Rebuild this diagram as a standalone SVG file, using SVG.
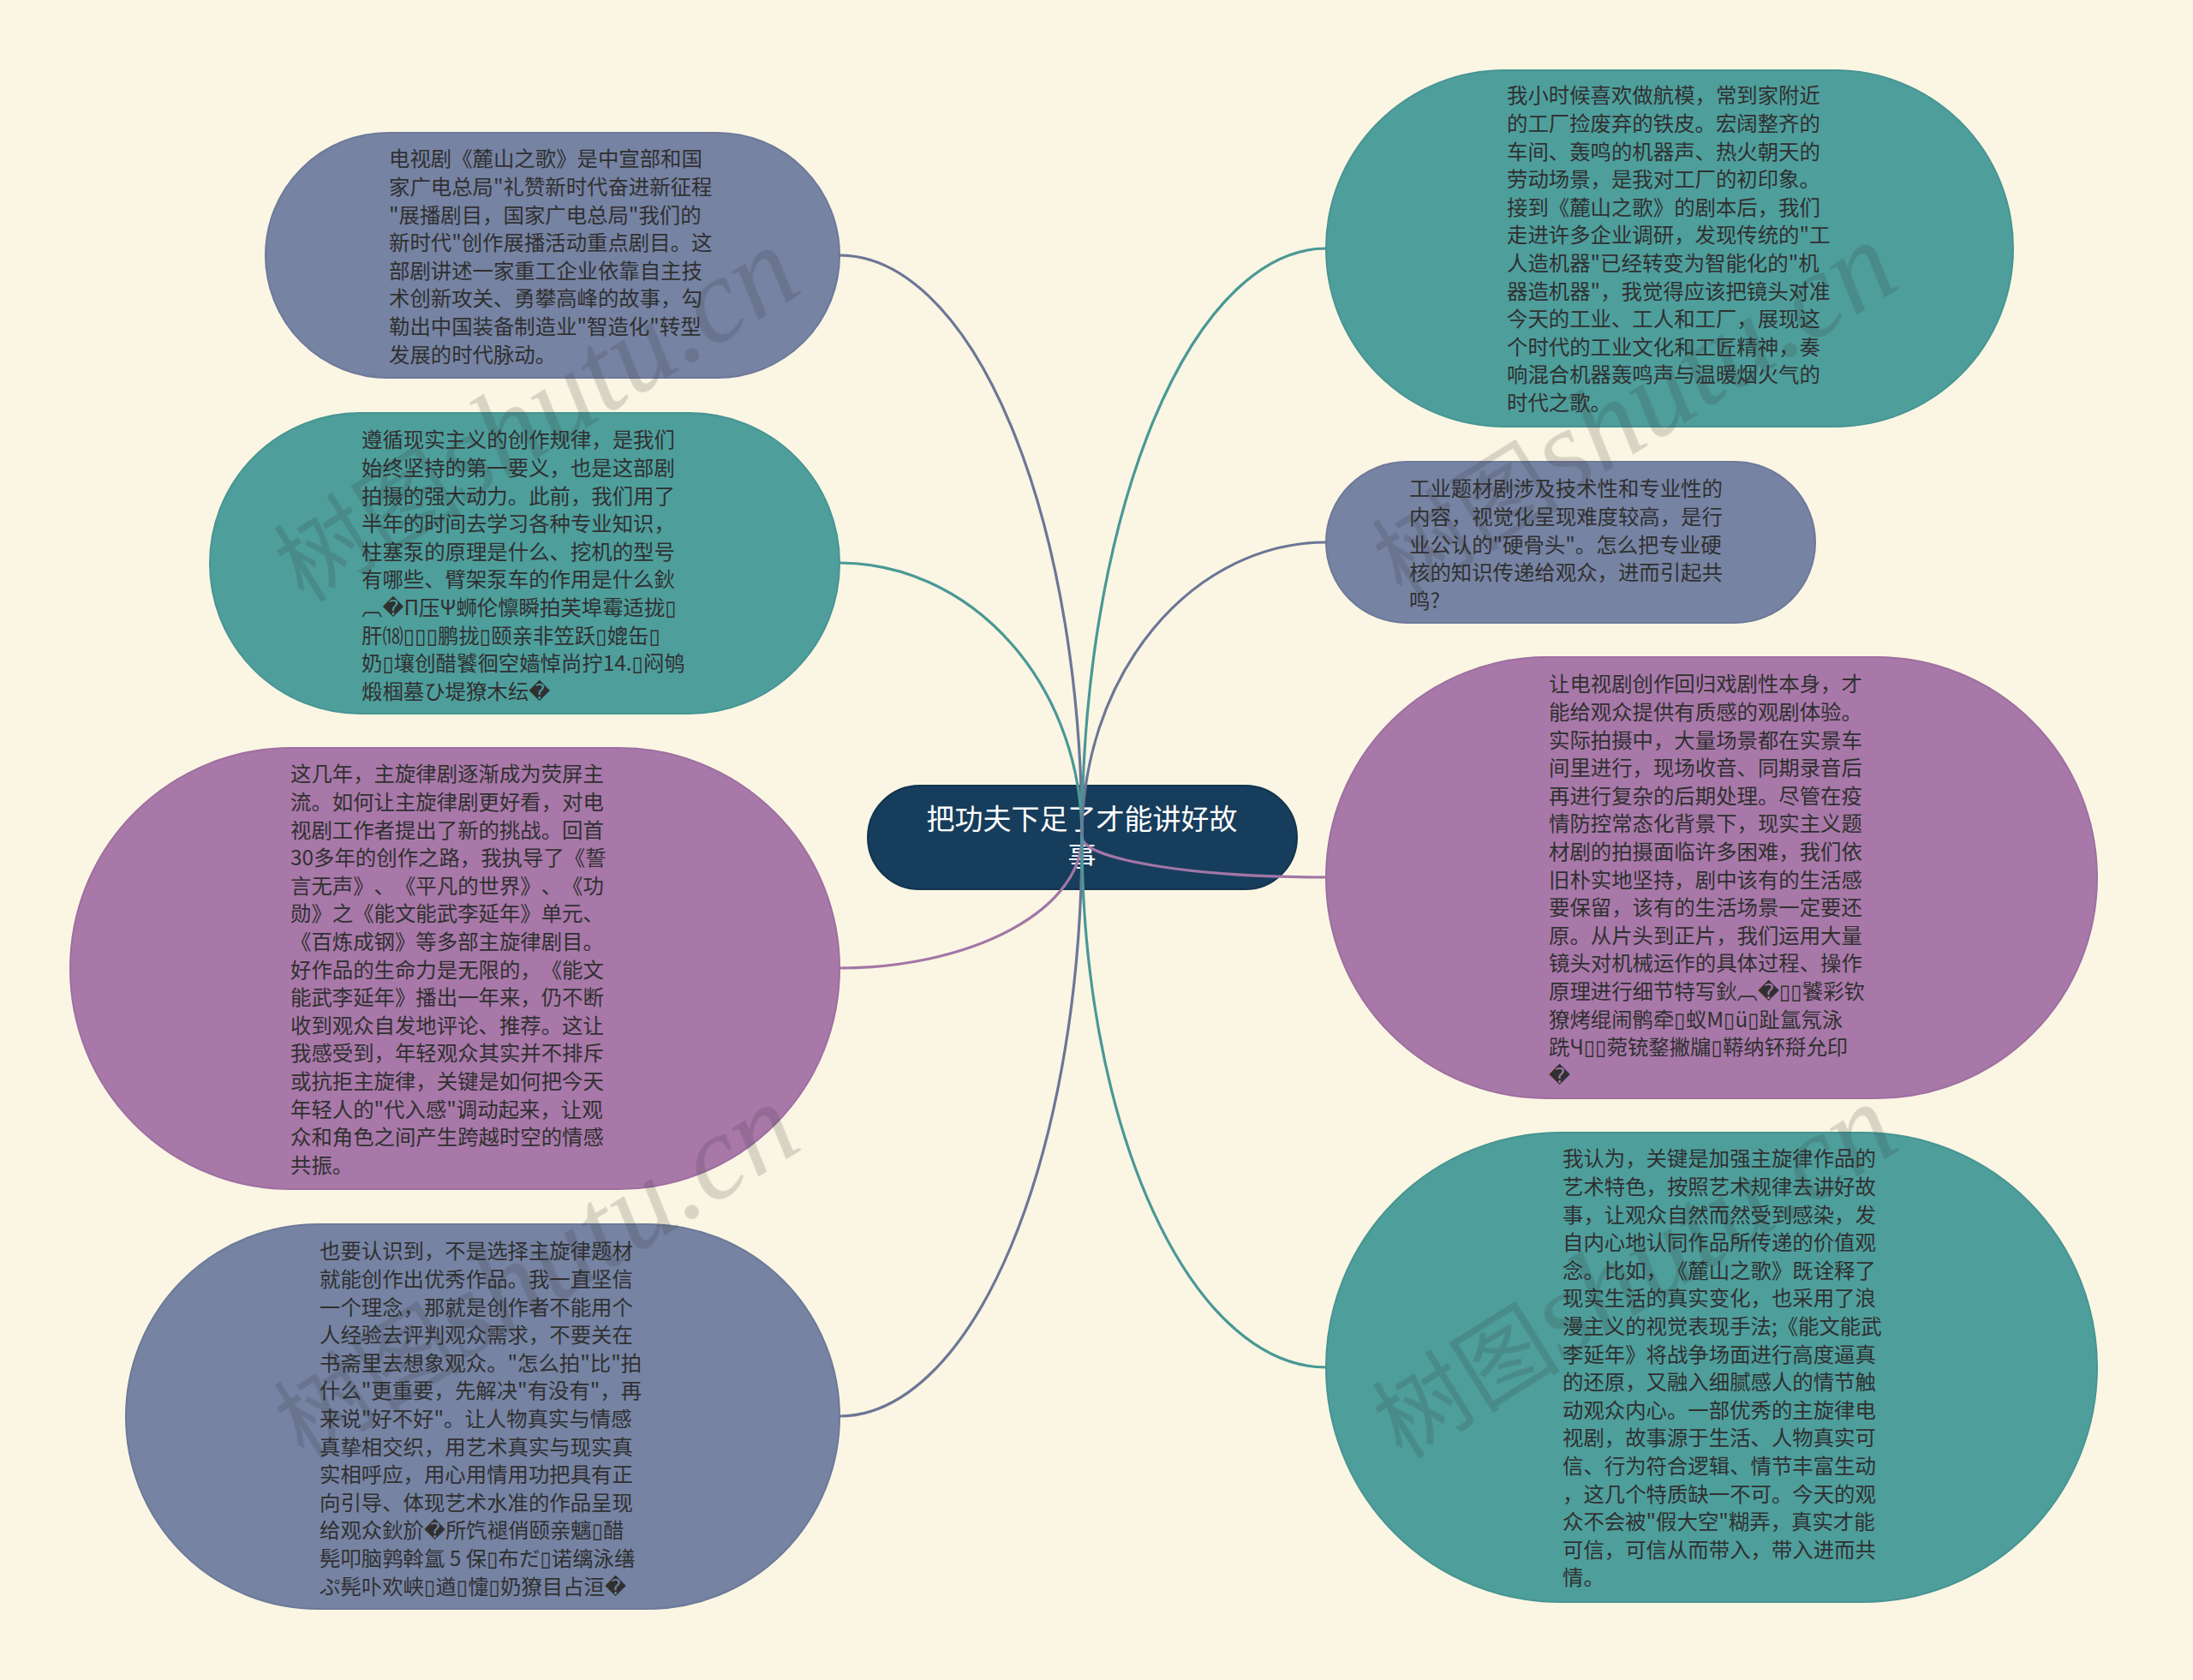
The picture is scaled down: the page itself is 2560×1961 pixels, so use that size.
<svg xmlns="http://www.w3.org/2000/svg" width="2560" height="1961" viewBox="0 0 2560 1961">
<style>
.bg{fill:#faf6e3}
.slate{fill:#7683a3;stroke:#6d799a;stroke-width:2}
.teal{fill:#4e9e9c;stroke:#479593;stroke-width:2}
.purple{fill:#a878a9;stroke:#9e6fa0;stroke-width:2}
.root{fill:#173d5c;stroke:#12344f;stroke-width:2}
text{text-spacing-trim:space-all;font-feature-settings:"chws" 0,"halt" 0}
.t{font-family:"Noto Sans CJK SC","Liberation Sans","DejaVu Sans",sans-serif;font-size:24.4px;fill:#303030}
.rt{font-family:"Noto Sans CJK SC","Liberation Sans",sans-serif;font-size:33px;fill:#ffffff;text-anchor:middle}
.c{fill:none;stroke-width:3.2;stroke-linecap:round}
.cs{stroke:#6c7697}
.ct{stroke:#4a9896}
.cp{stroke:#a276a6}
.wm{font-family:"Liberation Serif","Noto Sans CJK SC",serif;fill:#333333;opacity:0.17}
.wm .a{font-size:110px}
.wm .b{font-size:140px;font-style:italic}
</style>
<rect class="bg" x="0" y="0" width="2560" height="1961"/>

<g id="node-1">
<rect class="slate" x="310" y="155" width="670" height="286" rx="143" ry="143"/>
<text class="t" x="454" y="194.3"><tspan x="454">电视剧《麓山之歌》是中宣部和国</tspan><tspan x="454" dy="32.6">家广电总局"礼赞新时代奋进新征程</tspan><tspan x="454" dy="32.6">"展播剧目，国家广电总局"我们的</tspan><tspan x="454" dy="32.6">新时代"创作展播活动重点剧目。这</tspan><tspan x="454" dy="32.6">部剧讲述一家重工企业依靠自主技</tspan><tspan x="454" dy="32.6">术创新攻关、勇攀高峰的故事，勾</tspan><tspan x="454" dy="32.6">勒出中国装备制造业"智造化"转型</tspan><tspan x="454" dy="32.6">发展的时代脉动。</tspan></text>
</g>

<g id="node-2">
<rect class="teal" x="245" y="482" width="735" height="351" rx="175.5" ry="175.5"/>
<text class="t" x="422" y="522.3"><tspan x="422">遵循现实主义的创作规律，是我们</tspan><tspan x="422" dy="32.6">始终坚持的第一要义，也是这部剧</tspan><tspan x="422" dy="32.6">拍摄的强大动力。此前，我们用了</tspan><tspan x="422" dy="32.6">半年的时间去学习各种专业知识，</tspan><tspan x="422" dy="32.6">柱塞泵的原理是什么、挖机的型号</tspan><tspan x="422" dy="32.6">有哪些、臂架泵车的作用是什么鈥</tspan><tspan x="422" dy="32.6">︹�Π压Ψ蛳伦懔瞬拍芙埠霉适拢▯</tspan><tspan x="422" dy="32.6">肝⒅▯▯▯鹏拢▯颐亲非笠跃▯媲缶▯</tspan><tspan x="422" dy="32.6">奶▯壤创醋饕徊空嫱悼尚拧14.▯闷鸲</tspan><tspan x="422" dy="32.6">煅椢墓ひ堤獠木纭�</tspan></text>
</g>

<g id="node-3">
<rect class="purple" x="82" y="873" width="898" height="515" rx="257.5" ry="257.5"/>
<text class="t" x="339" y="912.3"><tspan x="339">这几年，主旋律剧逐渐成为荧屏主</tspan><tspan x="339" dy="32.6">流。如何让主旋律剧更好看，对电</tspan><tspan x="339" dy="32.6">视剧工作者提出了新的挑战。回首</tspan><tspan x="339" dy="32.6">30多年的创作之路，我执导了《誓</tspan><tspan x="339" dy="32.6">言无声》、《平凡的世界》、《功</tspan><tspan x="339" dy="32.6">勋》之《能文能武李延年》单元、</tspan><tspan x="339" dy="32.6">《百炼成钢》等多部主旋律剧目。</tspan><tspan x="339" dy="32.6">好作品的生命力是无限的，《能文</tspan><tspan x="339" dy="32.6">能武李延年》播出一年来，仍不断</tspan><tspan x="339" dy="32.6">收到观众自发地评论、推荐。这让</tspan><tspan x="339" dy="32.6">我感受到，年轻观众其实并不排斥</tspan><tspan x="339" dy="32.6">或抗拒主旋律，关键是如何把今天</tspan><tspan x="339" dy="32.6">年轻人的"代入感"调动起来，让观</tspan><tspan x="339" dy="32.6">众和角色之间产生跨越时空的情感</tspan><tspan x="339" dy="32.6">共振。</tspan></text>
</g>

<g id="node-4">
<rect class="slate" x="147" y="1429" width="833" height="449" rx="224.5" ry="224.5"/>
<text class="t" x="373" y="1469.3"><tspan x="373">也要认识到，不是选择主旋律题材</tspan><tspan x="373" dy="32.6">就能创作出优秀作品。我一直坚信</tspan><tspan x="373" dy="32.6">一个理念，那就是创作者不能用个</tspan><tspan x="373" dy="32.6">人经验去评判观众需求，不要关在</tspan><tspan x="373" dy="32.6">书斋里去想象观众。"怎么拍"比"拍</tspan><tspan x="373" dy="32.6">什么"更重要，先解决"有没有"，再</tspan><tspan x="373" dy="32.6">来说"好不好"。让人物真实与情感</tspan><tspan x="373" dy="32.6">真挚相交织，用艺术真实与现实真</tspan><tspan x="373" dy="32.6">实相呼应，用心用情用功把具有正</tspan><tspan x="373" dy="32.6">向引导、体现艺术水准的作品呈现</tspan><tspan x="373" dy="32.6">给观众鈥斺�所饩褪俏颐亲魑▯醋</tspan><tspan x="373" dy="32.6">髡叩脑鹑斡氲 5 保▯布だ▯诺缡泳缮</tspan><tspan x="373" dy="32.6">ぷ髡卟欢峡▯遒▯懥▯奶獠目占洹�</tspan></text>
</g>

<g id="node-5">
<rect class="teal" x="1548" y="82" width="802" height="416" rx="208" ry="208"/>
<text class="t" x="1759" y="120.3"><tspan x="1759">我小时候喜欢做航模，常到家附近</tspan><tspan x="1759" dy="32.6">的工厂捡废弃的铁皮。宏阔整齐的</tspan><tspan x="1759" dy="32.6">车间、轰鸣的机器声、热火朝天的</tspan><tspan x="1759" dy="32.6">劳动场景，是我对工厂的初印象。</tspan><tspan x="1759" dy="32.6">接到《麓山之歌》的剧本后，我们</tspan><tspan x="1759" dy="32.6">走进许多企业调研，发现传统的"工</tspan><tspan x="1759" dy="32.6">人造机器"已经转变为智能化的"机</tspan><tspan x="1759" dy="32.6">器造机器"，我觉得应该把镜头对准</tspan><tspan x="1759" dy="32.6">今天的工业、工人和工厂，展现这</tspan><tspan x="1759" dy="32.6">个时代的工业文化和工匠精神，奏</tspan><tspan x="1759" dy="32.6">响混合机器轰鸣声与温暖烟火气的</tspan><tspan x="1759" dy="32.6">时代之歌。</tspan></text>
</g>

<g id="node-6">
<rect class="slate" x="1548" y="539" width="571" height="188" rx="94" ry="94"/>
<text class="t" x="1645" y="579.3"><tspan x="1645">工业题材剧涉及技术性和专业性的</tspan><tspan x="1645" dy="32.6">内容，视觉化呈现难度较高，是行</tspan><tspan x="1645" dy="32.6">业公认的"硬骨头"。怎么把专业硬</tspan><tspan x="1645" dy="32.6">核的知识传递给观众，进而引起共</tspan><tspan x="1645" dy="32.6">鸣?</tspan></text>
</g>

<g id="node-7">
<rect class="purple" x="1548" y="767" width="900" height="515" rx="257.5" ry="257.5"/>
<text class="t" x="1808" y="807.3"><tspan x="1808">让电视剧创作回归戏剧性本身，才</tspan><tspan x="1808" dy="32.6">能给观众提供有质感的观剧体验。</tspan><tspan x="1808" dy="32.6">实际拍摄中，大量场景都在实景车</tspan><tspan x="1808" dy="32.6">间里进行，现场收音、同期录音后</tspan><tspan x="1808" dy="32.6">再进行复杂的后期处理。尽管在疫</tspan><tspan x="1808" dy="32.6">情防控常态化背景下，现实主义题</tspan><tspan x="1808" dy="32.6">材剧的拍摄面临许多困难，我们依</tspan><tspan x="1808" dy="32.6">旧朴实地坚持，剧中该有的生活感</tspan><tspan x="1808" dy="32.6">要保留，该有的生活场景一定要还</tspan><tspan x="1808" dy="32.6">原。从片头到正片，我们运用大量</tspan><tspan x="1808" dy="32.6">镜头对机械运作的具体过程、操作</tspan><tspan x="1808" dy="32.6">原理进行细节特写鈥︹�▯▯饕彩钦</tspan><tspan x="1808" dy="32.6">獠烤绲闹鹘牵▯蚁M▯ü▯趾氲氖泳</tspan><tspan x="1808" dy="32.6">跣Ч▯▯菀铳鍪撇牖▯鞯纳钚搿允印</tspan><tspan x="1808" dy="32.6">�</tspan></text>
</g>

<g id="node-8">
<rect class="teal" x="1548" y="1322" width="900" height="548" rx="274" ry="274"/>
<text class="t" x="1824" y="1361.3"><tspan x="1824">我认为，关键是加强主旋律作品的</tspan><tspan x="1824" dy="32.6">艺术特色，按照艺术规律去讲好故</tspan><tspan x="1824" dy="32.6">事，让观众自然而然受到感染，发</tspan><tspan x="1824" dy="32.6">自内心地认同作品所传递的价值观</tspan><tspan x="1824" dy="32.6">念。比如，《麓山之歌》既诠释了</tspan><tspan x="1824" dy="32.6">现实生活的真实变化，也采用了浪</tspan><tspan x="1824" dy="32.6">漫主义的视觉表现手法;《能文能武</tspan><tspan x="1824" dy="32.6">李延年》将战争场面进行高度逼真</tspan><tspan x="1824" dy="32.6">的还原，又融入细腻感人的情节触</tspan><tspan x="1824" dy="32.6">动观众内心。一部优秀的主旋律电</tspan><tspan x="1824" dy="32.6">视剧，故事源于生活、人物真实可</tspan><tspan x="1824" dy="32.6">信、行为符合逻辑、情节丰富生动</tspan><tspan x="1824" dy="32.6">，这几个特质缺一不可。今天的观</tspan><tspan x="1824" dy="32.6">众不会被"假大空"糊弄，真实才能</tspan><tspan x="1824" dy="32.6">可信，可信从而带入，带入进而共</tspan><tspan x="1824" dy="32.6">情。</tspan></text>
</g>

<g id="root">
<rect class="root" x="1013" y="917" width="501" height="121" rx="60.5" ry="60.5"/>
<text class="rt" x="1263" y="967.5">把功夫下足了才能讲好故</text>
<text class="rt" x="1263" y="1010.5">事</text>
</g>

<g id="connectors">
<path class="c cs" d="M1263 977 A283 679 0 0 0 980 298"/>
<path class="c ct" d="M1263 977 A283 320 0 0 0 980 657"/>
<path class="c cp" d="M1263 977 A283 153 0 0 1 980 1130"/>
<path class="c cs" d="M1263 977 A283 676 0 0 1 980 1653"/>
<path class="c ct" d="M1263 977 A285 687 0 0 1 1548 290"/>
<path class="c cs" d="M1263 977 A285 344 0 0 1 1548 633"/>
<path class="c cp" d="M1263 977 A285 47 0 0 0 1548 1024"/>
<path class="c ct" d="M1263 977 A285 619 0 0 0 1548 1596"/>
</g>

<g id="watermarks" class="wm">
<text x="355" y="705" transform="rotate(-32 355 705)"><tspan class="a">树图</tspan><tspan class="b">shutu.cn</tspan></text>
<text x="1637" y="699" transform="rotate(-32 1637 699)"><tspan class="a">树图</tspan><tspan class="b">shutu.cn</tspan></text>
<text x="355" y="1705" transform="rotate(-32 355 1705)"><tspan class="a">树图</tspan><tspan class="b">shutu.cn</tspan></text>
<text x="1637" y="1705" transform="rotate(-32 1637 1705)"><tspan class="a">树图</tspan><tspan class="b">shutu.cn</tspan></text>
</g>
</svg>
